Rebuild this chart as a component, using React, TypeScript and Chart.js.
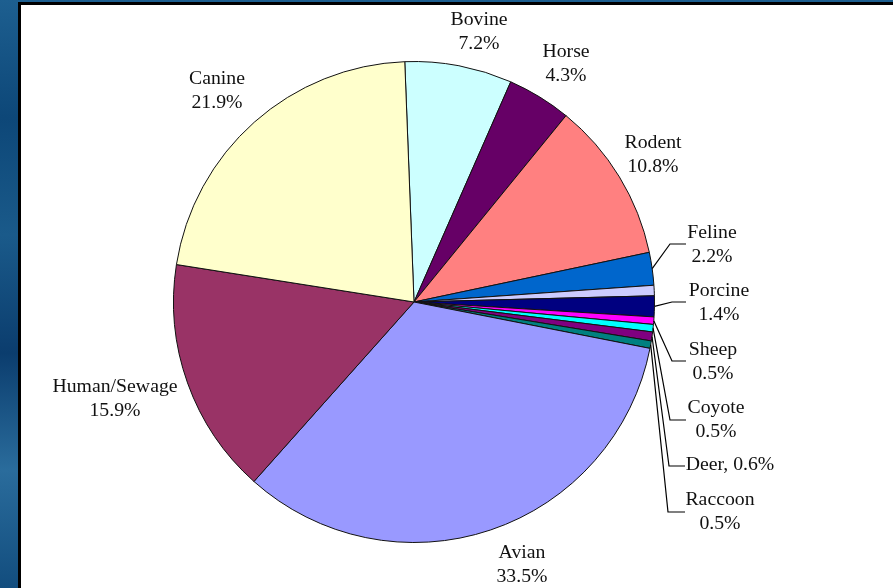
import React, { useEffect, useRef } from "react";
import { Chart, registerables } from "chart.js";

Chart.register(...registerables);

const categories = [
  "Bovine", "Horse", "Rodent", "Feline", "Other", "Porcine", "Sheep",
  "Coyote", "Deer", "Raccoon", "Avian", "Human/Sewage", "Canine",
];
const shares = [7.2, 4.3, 10.8, 2.2, 0.7, 1.4, 0.5, 0.5, 0.6, 0.5, 33.5, 15.9, 21.9];
const shareLabels = [
  "7.2%", "4.3%", "10.8%", "2.2%", "", "1.4%", "0.5%", "0.5%", "0.6%", "0.5%",
  "33.5%", "15.9%", "21.9%",
];
const colors = [
  "#CCFFFF", "#660066", "#FF8080", "#0066CC", "#CCCCFF", "#000080", "#FF00FF",
  "#00FFFF", "#800080", "#008080", "#9999FF", "#993366", "#FFFFCC",
];

type LabelPos = { i: number; x: number; y: number; single?: boolean; leader?: number[][] };
const labelLayout: LabelPos[] = [
  { i: 0, x: 479, y: 20 },
  { i: 1, x: 566, y: 52 },
  { i: 2, x: 653, y: 143 },
  { i: 3, x: 712, y: 233, leader: [[670, 244], [686, 244]] },
  { i: 5, x: 719, y: 291, leader: [[672, 302], [686, 302]] },
  { i: 6, x: 713, y: 350, leader: [[672, 361], [686, 361]] },
  { i: 7, x: 716, y: 408, leader: [[670, 420], [686, 420]] },
  { i: 8, x: 730, y: 465, single: true, leader: [[669, 466], [685, 466]] },
  { i: 9, x: 720, y: 500, leader: [[668, 512], [685, 512]] },
  { i: 10, x: 522, y: 553 },
  { i: 11, x: 115, y: 387 },
  { i: 12, x: 217, y: 79 },
];

const labelPlugin = {
  id: "pieLabels",
  afterDraw(chart: any) {
    const ctx = chart.ctx;
    const meta = chart.getDatasetMeta(0);
    ctx.save();
    ctx.strokeStyle = "#000";
    ctx.lineWidth = 1.2;
    ctx.fillStyle = "#111";
    ctx.font = '19px "Liberation Serif"';
    ctx.textAlign = "center";
    ctx.textBaseline = "middle";
    for (const lp of labelLayout) {
      const arc = meta.data[lp.i];
      if (lp.leader) {
        const a = (arc.startAngle + arc.endAngle) / 2;
        const sx = arc.x + Math.cos(a) * arc.outerRadius;
        const sy = arc.y + Math.sin(a) * arc.outerRadius;
        ctx.beginPath();
        ctx.moveTo(sx, sy);
        for (const p of lp.leader) ctx.lineTo(p[0], p[1]);
        ctx.stroke();
      }
      const lines = lp.single
        ? [categories[lp.i] + ", " + shareLabels[lp.i]]
        : [categories[lp.i], shareLabels[lp.i]];
      lines.forEach((t, k) => {
        ctx.save();
        ctx.translate(lp.x, lp.y + k * 24);
        ctx.scale(1.04, 1);
        ctx.fillText(t, 0, 0);
        ctx.restore();
      });
    }
    ctx.restore();
  },
};

export default function App() {
  const ref = useRef<HTMLCanvasElement | null>(null);
  useEffect(() => {
    if (!ref.current) return;
    const chart = new Chart(ref.current, {
      type: "pie",
      data: {
        labels: categories,
        datasets: [
          {
            data: shares,
            backgroundColor: colors,
            borderColor: "#111",
            borderWidth: 1,
          },
        ],
      },
      options: {
        responsive: false,
        animation: false,
        rotation: -2.2,
        layout: { padding: { top: 61, bottom: 45, left: 173, right: 238 } },
        plugins: { legend: { display: false }, tooltip: { enabled: false } },
      },
      plugins: [labelPlugin],
    });
    return () => chart.destroy();
  }, []);
  return (
    <div
      style={{
        position: "fixed",
        left: 0,
        top: 0,
        width: 893,
        height: 588,
        overflow: "hidden",
        background:
          "linear-gradient(to bottom, #1d5f90 0%, #0d4778 20%, #1a5a8a 40%, #0b3d6e 60%, #2a6c9c 80%, #124d7e 100%)",
      }}
    >
      <div
        style={{
          position: "absolute",
          left: 18,
          top: 2,
          right: 0,
          bottom: 0,
          background: "#fff",
          borderLeft: "3px solid #000",
          borderTop: "3px solid #000",
        }}
      />
      <canvas
        ref={ref}
        width={893}
        height={588}
        style={{ position: "absolute", left: 0, top: 0, width: 893, height: 588 }}
      />
    </div>
  );
}
